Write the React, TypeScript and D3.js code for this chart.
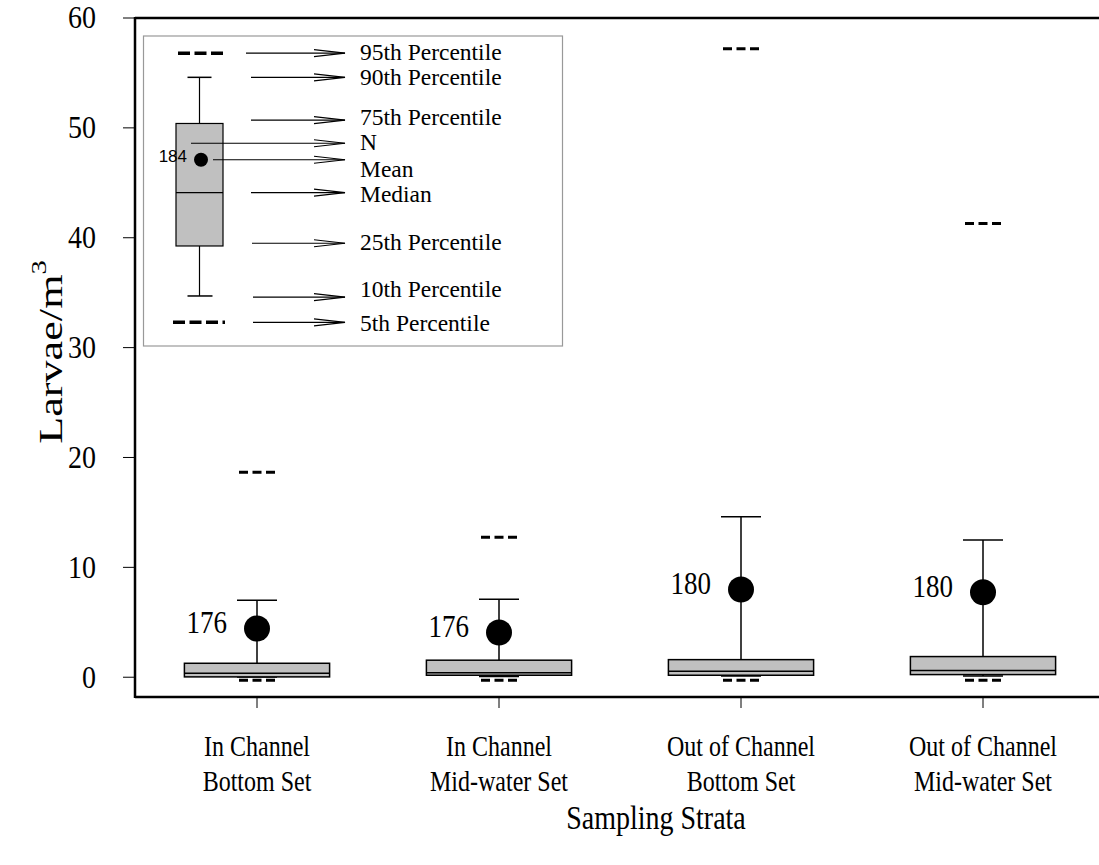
import React from "react";
import * as d3 from "d3";

const categories = ["In Channel|Bottom Set", "In Channel|Mid-water Set", "Out of Channel|Bottom Set", "Out of Channel|Mid-water Set"];
const nCounts = [176, 176, 180, 180];
const p5 = [-0.27, -0.27, -0.27, -0.27];
const p10 = [0.02, 0.06, 0.1, 0.1];
const p25 = [0.03, 0.18, 0.18, 0.24];
const median = [0.36, 0.4, 0.55, 0.61];
const p75 = [1.27, 1.55, 1.6, 1.88];
const p90 = [7.0, 7.1, 14.6, 12.5];
const p95 = [18.65, 12.75, 57.2, 41.3];
const mean = [4.43, 4.07, 7.99, 7.74];
const yTicks = [0, 10, 20, 30, 40, 50, 60];

// legend sample box (in data units)
const legendStats = { p5: 32.3, p10: 34.7, p25: 39.25, median: 44.1, p75: 50.4, p90: 54.6, p95: 56.8, mean: 47.1, n: 184 };
const legendLabels = ["95th Percentile", "90th Percentile", "75th Percentile", "N", "Mean", "Median", "25th Percentile", "10th Percentile", "5th Percentile"];
const legendArrowValues = [56.8, 54.6, 50.7, 48.6, 47.1, 44.1, 39.5, 34.6, 32.3];
const legendTextValues = [56.95, 54.6, 51.0, 48.7, 46.3, 44.0, 39.6, 35.3, 32.2];

const W = 1099, H = 865;
const serif = "'Liberation Serif', 'Times New Roman', serif";
const SY = 1.2;

export default function App() {
  const x = d3.scaleBand().domain(categories).range([136, 1104]).padding(0);
  const y = d3.scaleLinear().domain([-1.8, 60]).range([697, 18]);
  const bw = x.bandwidth() * 0.6;
  const capW = 40;
  const dashW = 36;

  const lx = 199.5; // legend sample centre
  const lbw = 47;
  const arrowTip = 345;
  const arrowStarts = [246, 251, 251, 191, 213, 251, 252, 253, 253];

  const stretchText = (tx: number, ty: number, content: React.ReactNode, props: any = {}, sy: number = SY) => (
    <text transform={`translate(${tx},${ty}) scale(1,${sy})`} dominantBaseline="central" {...props}>{content}</text>
  );

  return (
    <svg width={W} height={H} style={{ position: "absolute", left: 0, top: 0, background: "#fff" }} fontFamily={serif}>
      {/* frame */}
      <line x1={135} x2={1104} y1={18} y2={18} stroke="#000" strokeWidth={2.5} />
      <line x1={135} x2={1104} y1={697} y2={697} stroke="#000" strokeWidth={2.5} />
      <line x1={135} x2={135} y1={17} y2={698} stroke="#000" strokeWidth={2.5} />

      {/* y ticks */}
      {yTicks.map((t) => (
        <g key={t}>
          <line x1={123} x2={135} y1={y(t)} y2={y(t)} stroke="#000" strokeWidth={1} />
          {stretchText(96, y(t), String(t), { textAnchor: "end", fontSize: 28 }, 1.1)}
        </g>
      ))}
      {/* y label */}
      <text transform={`translate(62,352) rotate(-90) scale(1.3,1)`} textAnchor="middle" fontSize={34}>
        Larvae/m<tspan fontSize={22} dy={-16}>3</tspan>
      </text>

      {/* x ticks and labels */}
      {categories.map((c) => {
        const cx = (x(c) as number) + x.bandwidth() / 2;
        const [l1, l2] = c.split("|");
        return (
          <g key={c}>
            <line x1={cx} x2={cx} y1={697} y2={708} stroke="#000" strokeWidth={1} />
            {stretchText(cx, 746, l1, { textAnchor: "middle", fontSize: 24 })}
            {stretchText(cx, 781, l2, { textAnchor: "middle", fontSize: 24 })}
          </g>
        );
      })}
      {stretchText(656, 818, "Sampling Strata", { textAnchor: "middle", fontSize: 28 })}

      {/* boxes */}
      {categories.map((c, i) => {
        const cx = (x(c) as number) + x.bandwidth() / 2;
        return (
          <g key={c}>
            <line x1={cx} x2={cx} y1={y(p75[i])} y2={y(p90[i])} stroke="#000" strokeWidth={1.5} />
            <line x1={cx - capW / 2} x2={cx + capW / 2} y1={y(p90[i])} y2={y(p90[i])} stroke="#000" strokeWidth={1.5} />
            <line x1={cx} x2={cx} y1={y(p25[i])} y2={y(p10[i])} stroke="#000" strokeWidth={1.5} />
            <line x1={cx - capW / 2} x2={cx + capW / 2} y1={y(p10[i])} y2={y(p10[i])} stroke="#000" strokeWidth={1.5} />
            <rect x={cx - bw / 2} y={y(p75[i])} width={bw} height={y(p25[i]) - y(p75[i])} fill="#c0c0c0" stroke="#000" strokeWidth={1.5} />
            <line x1={cx - bw / 2} x2={cx + bw / 2} y1={y(median[i])} y2={y(median[i])} stroke="#000" strokeWidth={1.5} />
            <line x1={cx - dashW / 2} x2={cx + dashW / 2} y1={y(p95[i])} y2={y(p95[i])} stroke="#000" strokeWidth={3} strokeDasharray="9,4.5" />
            <line x1={cx - dashW / 2} x2={cx + dashW / 2} y1={y(p5[i])} y2={y(p5[i])} stroke="#000" strokeWidth={3} strokeDasharray="9,4.5" />
            <circle cx={cx + 0} cy={y(mean[i])} r={13} fill="#000" />
            {stretchText(cx - 30, y(mean[i]) - 7, String(nCounts[i]), { textAnchor: "end", fontSize: 27 })}
          </g>
        );
      })}

      {/* legend */}
      <rect x={143.5} y={36} width={419} height={310} fill="#fff" stroke="#999" strokeWidth={1.2} />
      <line x1={178} x2={223} y1={y(legendStats.p95)} y2={y(legendStats.p95)} stroke="#000" strokeWidth={3.5} strokeDasharray="12,4.5" />
      <line x1={173} x2={225} y1={y(legendStats.p5)} y2={y(legendStats.p5)} stroke="#000" strokeWidth={3.5} strokeDasharray="12,4.5" />
      <line x1={lx} x2={lx} y1={y(legendStats.p75)} y2={y(legendStats.p90)} stroke="#000" strokeWidth={1.2} />
      <line x1={lx - 12} x2={lx + 12} y1={y(legendStats.p90)} y2={y(legendStats.p90)} stroke="#000" strokeWidth={1.5} />
      <line x1={lx} x2={lx} y1={y(legendStats.p25)} y2={y(legendStats.p10)} stroke="#000" strokeWidth={1.2} />
      <line x1={lx - 12} x2={lx + 13} y1={y(legendStats.p10)} y2={y(legendStats.p10)} stroke="#000" strokeWidth={1.5} />
      <rect x={lx - lbw / 2} y={y(legendStats.p75)} width={lbw} height={y(legendStats.p25) - y(legendStats.p75)} fill="#c0c0c0" stroke="#000" strokeWidth={1.2} />
      <line x1={lx - lbw / 2} x2={lx + lbw / 2} y1={y(legendStats.median)} y2={y(legendStats.median)} stroke="#000" strokeWidth={1.2} />
      <circle cx={201} cy={y(legendStats.mean)} r={7} fill="#000" />
      <text x={187} y={y(legendStats.mean) - 3} textAnchor="end" dominantBaseline="central" fontSize={17} fontFamily="'Liberation Sans', Arial, sans-serif">{legendStats.n}</text>
      {legendLabels.map((lab, i) => {
        const ay = y(legendArrowValues[i]);
        return (
          <g key={lab}>
            <line x1={arrowStarts[i]} x2={arrowTip} y1={ay} y2={ay} stroke="#000" strokeWidth={1.2} />
            <polyline points={`${arrowTip - 31},${ay - 3.5} ${arrowTip},${ay} ${arrowTip - 31},${ay + 3.5}`} fill="none" stroke="#000" strokeWidth={1.2} />
            {stretchText(360, y(legendTextValues[i]), lab, { fontSize: 23.5 }, 1.0)}
          </g>
        );
      })}
    </svg>
  );
}
